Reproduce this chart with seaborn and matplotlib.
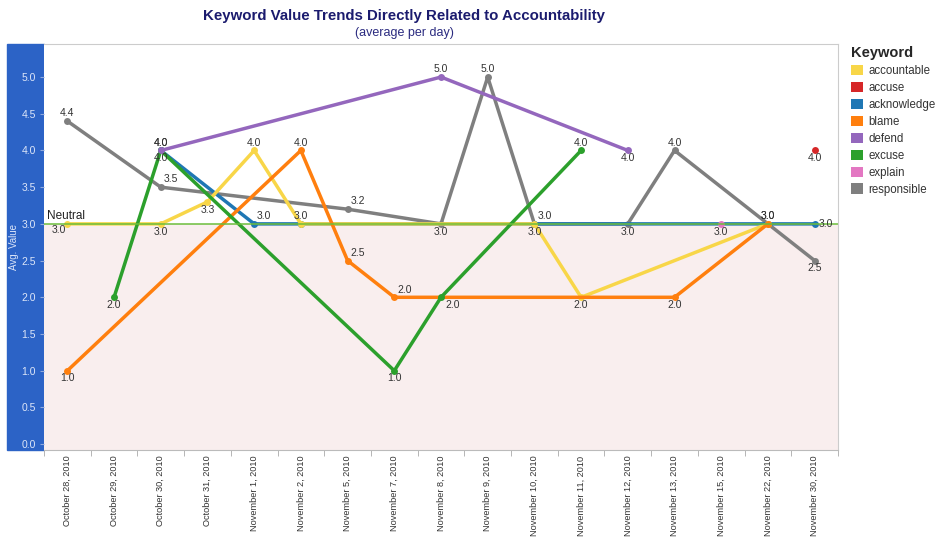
import matplotlib
matplotlib.use("Agg")
import matplotlib.pyplot as plt
from matplotlib.patches import Patch, Rectangle
import numpy as np
import pandas as pd
import seaborn as sns

DATES = ["October 28, 2010", "October 29, 2010", "October 30, 2010", "October 31, 2010",
         "November 1, 2010", "November 2, 2010", "November 5, 2010", "November 7, 2010",
         "November 8, 2010", "November 9, 2010", "November 10, 2010", "November 11, 2010",
         "November 12, 2010", "November 13, 2010", "November 15, 2010", "November 22, 2010",
         "November 30, 2010"]
N = None
#              Oc28 Oc29 Oc30 Oc31 Nv1  Nv2  Nv5  Nv7  Nv8  Nv9  Nv10 Nv11 Nv12 Nv13 Nv15 Nv22 Nv30
accountable = [3.0, N,   3.0, 3.3, 4.0, 3.0, N,   N,   N,   N,   3.0, 2.0, N,   N,   N,   3.0, N]
accuse      = [N,   N,   N,   N,   N,   N,   N,   N,   N,   N,   N,   N,   N,   N,   N,   N,   4.0]
acknowledge = [N,   N,   4.0, N,   3.0, 3.0, N,   N,   N,   N,   3.0, N,   N,   N,   N,   N,   3.0]
blame       = [1.0, N,   N,   N,   N,   4.0, 2.5, 2.0, N,   N,   N,   N,   N,   2.0, N,   3.0, N]
defend      = [N,   N,   4.0, N,   N,   N,   N,   N,   5.0, N,   N,   N,   4.0, N,   N,   N,   N]
excuse      = [N,   2.0, 4.0, N,   N,   N,   N,   1.0, 2.0, N,   N,   4.0, N,   N,   N,   N,   N]
explain     = [N,   N,   N,   N,   N,   N,   N,   N,   N,   N,   N,   N,   N,   N,   3.0, N,   N]
responsible = [4.4, N,   3.5, N,   N,   N,   3.2, N,   3.0, 5.0, 3.0, N,   3.0, 4.0, N,   3.0, 2.5]

SERIES = {"accountable": accountable, "accuse": accuse, "acknowledge": acknowledge,
          "blame": blame, "defend": defend, "excuse": excuse, "explain": explain,
          "responsible": responsible}
KEYWORDS = list(SERIES.keys())
COLORS = {"accountable": "#f8d648", "accuse": "#d62728", "acknowledge": "#1f77b4",
          "blame": "#ff7f0e", "defend": "#9467bd", "excuse": "#2ca02c",
          "explain": "#e377c2", "responsible": "#7f7f7f"}
# bottom -> top
DRAW_ORDER = ["responsible", "acknowledge", "accountable", "blame", "excuse",
              "defend", "explain", "accuse"]

# where each point's value label goes (a=above, b=below, ar/br=side, r/l, ''=hidden)
LABEL_SIDE = {
    "accountable": ["l", "b", "b", "a", "a", "b", "b", "a"],
    "accuse": ["b"],
    "acknowledge": ["a", "ar", "", "", "r"],
    "blame": ["b", "a", "ar", "ar", "b", ""],
    "defend": ["a", "a", "b"],
    "excuse": ["b", "b", "b", "br", "a"],
    "explain": ["b"],
    "responsible": ["a", "ar", "ar", "b", "a", "ar", "b", "a", "a", "b"],
}

rows = []
for kw, vals in SERIES.items():
    for i, v in enumerate(vals):
        if v is not None:
            rows.append({"keyword": kw, "pos": i, "value": v})
df = pd.DataFrame(rows)

sns.set_style("white")
plt.rcParams["font.family"] = ["Liberation Sans", "DejaVu Sans"]

W, H = 936, 539
fig = plt.figure(figsize=(W / 100, H / 100), dpi=100)
ax = fig.add_axes([44 / W, 1 - 450 / H, (838 - 44) / W, (450 - 44) / H])

# blue y-axis band
fig.patches.append(Rectangle((7 / W, 1 - 450 / H), 37 / W, 406 / H,
                             transform=fig.transFigure, color="#2c63c6", zorder=-1))

ax.axhspan(-0.08, 3.0, color="#f9eeee", zorder=0, lw=0)

sns.lineplot(data=df, x="pos", y="value", hue="keyword", hue_order=DRAW_ORDER,
             palette=COLORS, marker="o", markersize=5, markeredgewidth=0,
             linewidth=2.5, estimator=None, legend=False, ax=ax)

ax.axhline(3.0, color="#6cbd3c", lw=1.1, zorder=2.5)
ax.text(0.004, 3.02, "Neutral", fontsize=8.5, color="#222222", ha="left", va="bottom",
        transform=ax.get_yaxis_transform(), zorder=7)

OFFS = {"a": (0, 2, "center", "bottom"), "b": (0, -2, "center", "top"),
        "ar": (2, 2, "left", "bottom"), "br": (3, -2, "left", "top"),
        "r": (3, 0, "left", "center"), "l": (-1, -1, "right", "top")}
for kw, vals in SERIES.items():
    pts = [(i, v) for i, v in enumerate(vals) if v is not None]
    for (i, v), side in zip(pts, LABEL_SIDE[kw]):
        if not side:
            continue
        dx, dy, ha, va = OFFS[side]
        ax.annotate("%.1f" % v, (i, v), xytext=(dx, dy), textcoords="offset points",
                    ha=ha, va=va, fontsize=7.5, color="#333333", zorder=6)

ax.set_xlim(-0.5, 16.5)
ax.set_ylim(-0.08, 5.45)
ax.set_xticks(range(len(DATES)))
ax.set_xticklabels(DATES, rotation=90, fontsize=6.6, color="#333333")
ax.set_xticks(np.arange(-0.5, len(DATES), 1), minor=True)
ax.tick_params(axis="x", which="major", length=0, pad=4)
ax.tick_params(axis="x", which="minor", length=4, color="#aaaaaa", bottom=True)
yt = np.arange(0, 5.01, 0.5)
ax.set_yticks(yt)
ax.set_yticklabels(["%.1f" % t for t in yt], fontsize=7.5, color="#dde6f8")
ax.tick_params(axis="y", length=3, color="#8fa9dd", pad=3, left=True)
ax.set_xlabel("")
ax.set_ylabel("")
fig.text(14 / W, 1 - 247 / H, "Avg. Value", rotation=90, ha="center", va="center",
         fontsize=7, color="#dde6f8")

for s in ["top", "right"]:
    ax.spines[s].set_color("#cccccc")
ax.spines["bottom"].set_color("#bbbbbb")
ax.spines["left"].set_visible(False)

handles = [Patch(facecolor=COLORS[k], edgecolor="none") for k in KEYWORDS]
leg = fig.legend(handles, KEYWORDS, loc="upper left", bbox_to_anchor=(851 / W, 1 - 46 / H),
                 frameon=False, title="Keyword", handlelength=1.0, handleheight=1.0,
                 labelspacing=0.42, fontsize=8.3, title_fontsize=10.5,
                 handletextpad=0.5, borderaxespad=0, borderpad=0)
leg.get_title().set_fontweight("bold")
leg._legend_box.align = "left"
for t in leg.get_texts():
    t.set_color("#333333")

fig.text(404 / W, 1 - 16 / H, "Keyword Value Trends Directly Related to Accountability",
         ha="center", va="center", fontsize=10.8, fontweight="bold", color="#1b1b6e")
fig.text(404 / W, 1 - 33 / H, "(average per day)", ha="center", va="center",
         fontsize=9, color="#2b2b80")

fig.savefig("out.png", dpi=100)
